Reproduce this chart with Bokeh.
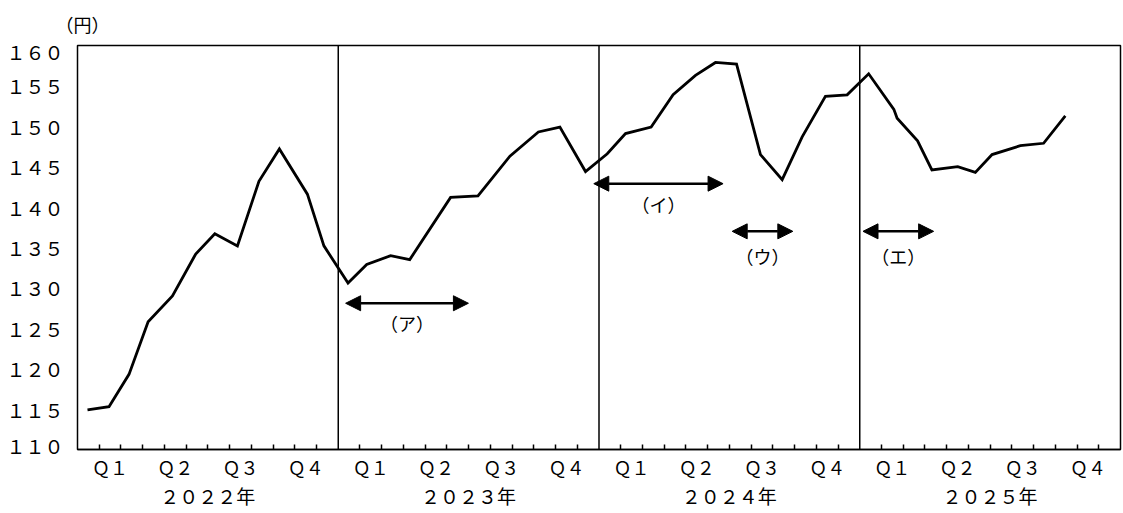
from bokeh.plotting import figure
from bokeh.models import FixedTicker, LinearAxis, Span, Arrow, NormalHead, ColumnDataSource
from bokeh.core.properties import value
from bokeh.embed import file_html
from bokeh.resources import INLINE

# ---------------- data ----------------
# position in months since Jan 2022 (0 = start of Jan 2022)
months = [0.46, 1.45, 2.37, 3.25, 4.37, 5.44, 6.32, 7.36, 8.35, 9.29, 10.58, 11.34,
          12.45, 13.31, 14.41, 15.29, 17.17, 18.43, 19.90, 21.21, 22.20, 23.38,
          24.38, 25.22, 26.40, 27.41, 28.44, 29.36, 30.33, 31.43, 32.43, 33.35, 34.42, 35.42,
          36.41, 37.57, 37.72, 38.66, 39.32, 40.51, 41.32, 42.09, 43.39, 44.46, 45.46]
yen = [114.9, 115.3, 119.3, 125.8, 129.0, 134.2, 136.7, 135.2, 143.2, 147.2, 141.6, 135.2,
       130.6, 132.9, 134.0, 133.5, 141.2, 141.4, 146.3, 149.3, 149.9, 144.4,
       146.6, 149.1, 149.9, 153.9, 156.3, 157.9, 157.7, 146.5, 143.4, 148.7, 153.7, 153.9,
       156.5, 152.1, 151.0, 148.2, 144.6, 145.0, 144.3, 146.5, 147.6, 147.9, 151.3]

y_ticks = [110, 115, 120, 125, 130, 135, 140, 145, 150, 155, 160]
y_tick_labels = ["１１０", "１１５", "１２０", "１２５", "１３０", "１３５",
                 "１４０", "１４５", "１５０", "１５５", "１６０"]
y_unit = "（円）"

years = ["２０２２年", "２０２３年", "２０２４年", "２０２５年"]
quarters = ["Ｑ１", "Ｑ２", "Ｑ３", "Ｑ４"]

period_names = ["（ア）", "（イ）", "（ウ）", "（エ）"]
period_start = [12.34, 23.76, 30.13, 36.15]
period_end = [17.99, 29.71, 32.92, 39.40]
period_level = [128.1, 142.9, 137.0, 137.0]

# ---------------- style ----------------
FONT = "Noto Sans CJK JP"
label_nudge = {110: 0.5, 160: -0.8}     # end labels sit slightly inside the frame
period_label_offset = [20, 20, 25, 25]  # px below each arrow

n_months = 12 * len(years)

p = figure(width=1123, height=513, x_range=(0, n_months), y_range=(110, 160),
           output_backend="svg", toolbar_location=None,
           min_border_left=77, min_border_right=3, min_border_top=45, min_border_bottom=64,
           x_axis_location=None, y_axis_location=None)
p.grid.visible = False
p.outline_line_color = "black"
p.outline_line_width = 1.5
p.background_fill_color = "white"
p.border_fill_color = "white"

# unit as a left-aligned title
p.title.text = y_unit
p.title.align = "left"
p.title.offset = -22
p.title.standoff = 17
p.title.text_font = FONT
p.title.text_font_size = "18px"
p.title.text_font_style = "normal"
p.title.text_color = "black"

# y axis
tick_pos = [t + label_nudge.get(t, 0) for t in y_ticks]
yax = LinearAxis(ticker=FixedTicker(ticks=tick_pos),
                 major_label_overrides={tp: lab for tp, lab in zip(tick_pos, y_tick_labels)})
yax.axis_line_color = None
yax.major_tick_line_color = None
yax.minor_tick_line_color = None
yax.major_label_standoff = 8
yax.major_label_text_font = FONT
yax.major_label_text_font_size = "19px"
yax.major_label_text_color = "black"
p.add_layout(yax, "left")

# x axis: quarters with month ticks
q_pos = [3 * i + 1.5 for i in range(4 * len(years))]
q_lab = {qp: quarters[i % 4] for i, qp in enumerate(q_pos)}
month_ticks = [m for m in range(1, n_months) if m % 12 != 0]
xax = LinearAxis(ticker=FixedTicker(ticks=q_pos, minor_ticks=month_ticks),
                 major_label_overrides=q_lab)
xax.axis_line_color = "black"
xax.axis_line_width = 1.5
xax.major_tick_line_color = None
xax.minor_tick_in = 5
xax.minor_tick_out = 0
xax.minor_tick_line_width = 1.5
xax.minor_tick_line_color = "black"
xax.major_label_standoff = -2
xax.major_label_text_font = FONT
xax.major_label_text_font_size = "18px"
xax.major_label_text_color = "black"
p.add_layout(xax, "below")

# x axis: years
y_pos = [12 * i + 6 for i in range(len(years))]
xax2 = LinearAxis(ticker=FixedTicker(ticks=y_pos, minor_ticks=[]),
                  major_label_overrides={yp: lab for yp, lab in zip(y_pos, years)})
xax2.axis_line_color = None
xax2.major_tick_line_color = None
xax2.minor_tick_line_color = None
xax2.major_label_standoff = -7
xax2.major_label_text_font = FONT
xax2.major_label_text_font_size = "19px"
xax2.major_label_text_color = "black"
p.add_layout(xax2, "below")

# year separators
for b in range(12, n_months, 12):
    p.add_layout(Span(location=b, dimension="height", line_color="black", line_width=1.5))

# exchange-rate line
src = ColumnDataSource(dict(x=months, y=yen))
p.line("x", "y", source=src, line_color="black", line_width=2.8, line_join="miter")

# period arrows
for s, e, lv in zip(period_start, period_end, period_level):
    p.add_layout(Arrow(x_start=s, x_end=e, y_start=lv, y_end=lv,
                       line_color="black", line_width=2.5,
                       start=NormalHead(size=15, fill_color="black", line_color="black"),
                       end=NormalHead(size=15, fill_color="black", line_color="black")))
mids = [(s + e) / 2 for s, e in zip(period_start, period_end)]
lsrc = ColumnDataSource(dict(x=mids, y=period_level, t=period_names, off=period_label_offset))
p.text("x", "y", text="t", y_offset="off", source=lsrc, text_align="center",
       text_baseline="middle", text_font=value(FONT), text_font_size="18px", text_color="black")

open("out.html", "w").write(file_html(p, INLINE))
